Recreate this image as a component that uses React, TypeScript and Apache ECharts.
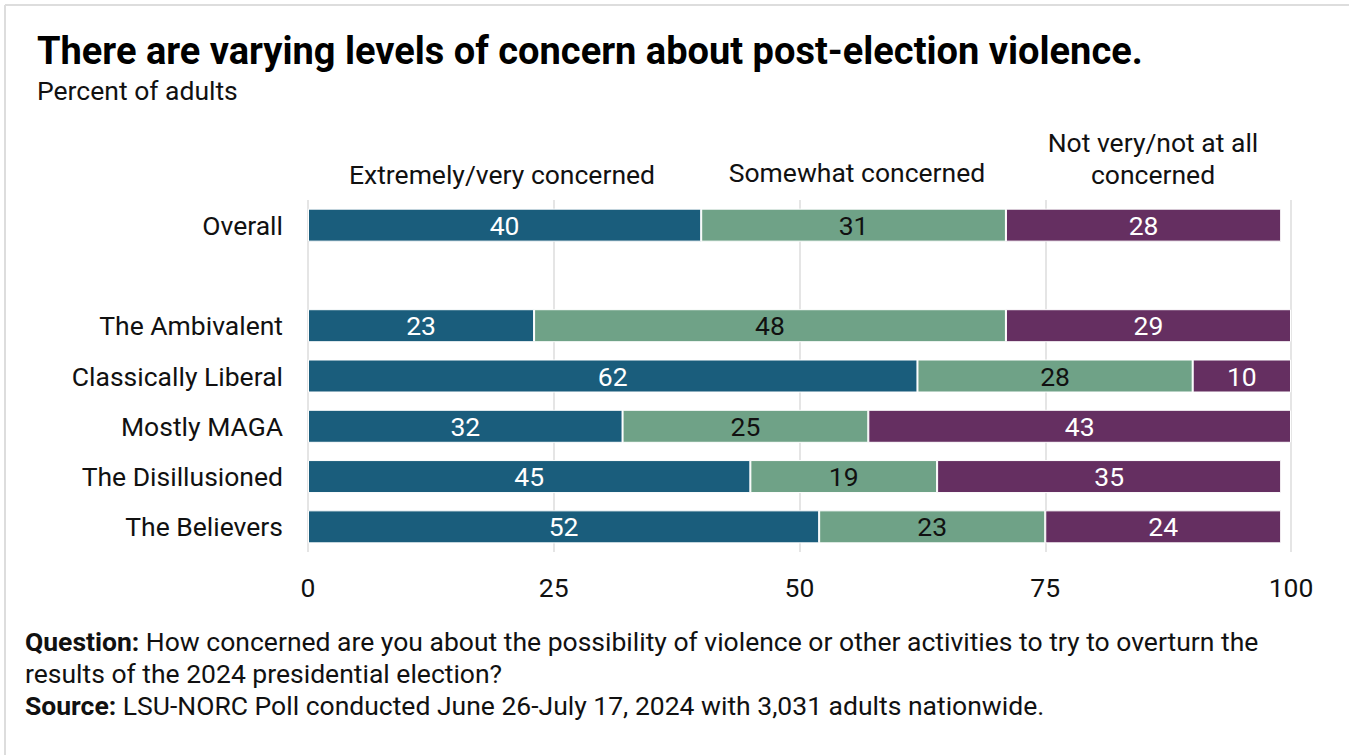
import React, { useEffect, useRef } from "react";
import * as echarts from "echarts";

const categories = ["Overall", "", "The Ambivalent", "Classically Liberal", "Mostly MAGA", "The Disillusioned", "The Believers"];
const extremely = [40, null, 23, 62, 32, 45, 52];
const somewhat = [31, null, 48, 28, 25, 19, 23];
const notVery = [28, null, 29, 10, 43, 35, 24];
const xTicks = [0, 25, 50, 75, 100];
const seriesNames = ["Extremely/very concerned", "Somewhat concerned", "Not very/not at all\nconcerned"];

const FONT = "Roboto, 'Noto Sans', sans-serif";
const FS = 26.5;

export default function App() {
  const ref = useRef<HTMLDivElement>(null);
  useEffect(() => {
    if (!ref.current) return;
    const chart = echarts.init(ref.current, null, { renderer: "svg" });
    const mk = (name: string, data: (number | null)[], color: string, labelColor: string) => ({
      name,
      type: "bar",
      stack: "total",
      barWidth: 33,
      data,
      itemStyle: { color, borderColor: "#ffffff", borderWidth: 1 },
      label: {
        show: true,
        position: "inside",
        color: labelColor,
        fontSize: FS,
        fontFamily: FONT,
      },
    });
    chart.setOption({
      animation: false,
      textStyle: { fontFamily: FONT },
      grid: { left: 308, right: 58, top: 200, height: 352 },
      xAxis: {
        type: "value",
        min: 0,
        max: 100,
        interval: 25,
        axisLine: { show: false },
        axisTick: { show: false },
        splitLine: { show: true, lineStyle: { color: "#dddddd", width: 1.5 } },
        axisLabel: {
          fontSize: FS,
          color: "#111",
          margin: 22,
          fontFamily: FONT,
          formatter: (v: number) => (xTicks.includes(v) ? String(v) : ""),
        },
      },
      yAxis: {
        type: "category",
        inverse: true,
        data: categories,
        axisLine: { show: false },
        axisTick: { show: false },
        axisLabel: { fontSize: FS, color: "#111", margin: 25, fontFamily: FONT },
      },
      graphic: [
        { type: "line", shape: { x1: 5, y1: 5, x2: 1349, y2: 5 }, style: { stroke: "#dddddd", lineWidth: 2 } },
        { type: "line", shape: { x1: 5, y1: 5, x2: 5, y2: 755 }, style: { stroke: "#dddddd", lineWidth: 2 } },
        {
          type: "text",
          x: 37,
          y: 51,
          style: { text: "There are varying levels of concern about post-election violence.", fontSize: 38, fontWeight: "bold", fill: "#000", verticalAlign: "middle", fontFamily: FONT },
        },
        {
          type: "text",
          x: 37,
          y: 90,
          style: { text: "Percent of adults", fontSize: FS, fill: "#111", verticalAlign: "middle", fontFamily: FONT },
        },
        {
          type: "text",
          x: 502,
          y: 174,
          style: { text: seriesNames[0], fontSize: FS, fill: "#111", align: "center", verticalAlign: "middle", fontFamily: FONT },
        },
        {
          type: "text",
          x: 857,
          y: 172,
          style: { text: seriesNames[1], fontSize: FS, fill: "#111", align: "center", verticalAlign: "middle", fontFamily: FONT },
        },
        {
          type: "text",
          x: 1153,
          y: 158,
          style: { text: seriesNames[2], fontSize: FS, lineHeight: 32, fill: "#111", align: "center", verticalAlign: "middle", fontFamily: FONT },
        },
        {
          type: "text",
          left: 25,
          top: 625,
          style: {
            text: "{b|Question:} How concerned are you about the possibility of violence or other activities to try to overturn the\nresults of the 2024 presidential election?\n{b|Source:} LSU-NORC Poll conducted June 26-July 17, 2024 with 3,031 adults nationwide.",
            fontSize: FS,
            lineHeight: 32,
            fill: "#111",
            fontFamily: FONT,
            rich: { b: { fontWeight: "bold", fontSize: FS, lineHeight: 32, fill: "#111", fontFamily: FONT } },
          },
        },
      ],
      series: [
        mk(seriesNames[0], extremely, "#1a5d7c", "#ffffff"),
        mk(seriesNames[1], somewhat, "#6fa287", "#111111"),
        mk(seriesNames[2], notVery, "#652f61", "#ffffff"),
      ],
    });
    return () => chart.dispose();
  }, []);
  return <div ref={ref} style={{ position: "absolute", left: 0, top: 0, width: 1349, height: 755 }} />;
}
